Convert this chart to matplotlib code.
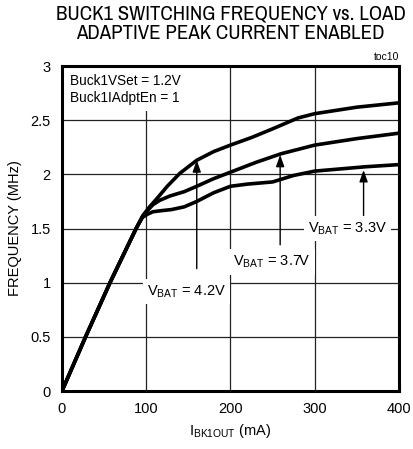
import matplotlib
matplotlib.use("Agg")
import matplotlib.pyplot as plt
from matplotlib import font_manager

# load current (mA) vs switching frequency (MHz)
x_42 = [0, 28, 57, 88, 96, 104, 112, 125, 140, 160, 180, 200, 225, 250, 265, 280, 300, 325, 350, 375, 400]
f_42 = [0, 0.5, 1.0, 1.5, 1.62, 1.7, 1.77, 1.89, 2.01, 2.13, 2.21, 2.27, 2.34, 2.42, 2.47, 2.52, 2.56, 2.59, 2.62, 2.64, 2.66]

x_37 = [0, 28, 57, 88, 96, 102, 108, 116, 128, 145, 160, 180, 200, 230, 260, 280, 300, 350, 400]
f_37 = [0, 0.5, 1.0, 1.5, 1.61, 1.67, 1.72, 1.76, 1.8, 1.84, 1.89, 1.96, 2.02, 2.11, 2.19, 2.23, 2.27, 2.33, 2.38]

x_33 = [0, 28, 57, 88, 95, 101, 108, 118, 130, 145, 160, 180, 200, 220, 250, 275, 300, 330, 360, 400]
f_33 = [0, 0.5, 1.0, 1.5, 1.6, 1.63, 1.655, 1.665, 1.675, 1.7, 1.75, 1.83, 1.89, 1.91, 1.93, 1.99, 2.03, 2.05, 2.07, 2.09]

x_ticks = [0, 100, 200, 300, 400]
y_ticks = [0, 0.5, 1, 1.5, 2, 2.5, 3]
y_tick_labels = ["0", "0.5", "1", "1.5", "2", "2.5", "3"]

names = {f.name for f in font_manager.fontManager.ttflist}
narrow = next((n for n in ["Archivo Narrow", "PT Sans Narrow", "Liberation Sans Narrow"] if n in names),
              "Liberation Sans")
plt.rcParams["font.family"] = ["Liberation Sans", "DejaVu Sans"]

fig = plt.figure(figsize=(4.13, 4.49), dpi=100)
ax = fig.add_axes([0.150, 0.129, 0.816, 0.724])

ax.set_xlim(0, 400)
ax.set_ylim(0, 3)
ax.set_xticks(x_ticks)
ax.set_yticks(y_ticks)
ax.set_yticklabels(y_tick_labels)
ax.tick_params(length=0, labelsize=10.5, pad=8)
ax.grid(True, color="#222222", lw=0.9)
ax.set_axisbelow(True)
for s in ax.spines.values():
    s.set_linewidth(2.2)
    s.set_zorder(6)

for xs, fs in [(x_42, f_42), (x_37, f_37), (x_33, f_33)]:
    ax.plot(xs, fs, color="black", lw=2.6, solid_capstyle="butt", solid_joinstyle="round", zorder=3)

# condition box (covers the grid in the top-left corner)
ax.text(10, 2.925, "Buck1VSet = 1.2V\nBuck1IAdptEn = 1", fontsize=9.8, va="top", ha="left",
        linespacing=1.25, zorder=5,
        bbox=dict(boxstyle="square,pad=0.45", fc="white", ec="none"))

arrow = dict(arrowstyle="-|>,head_length=0.7,head_width=0.25", color="black", lw=1.0,
             shrinkA=0, shrinkB=0)
labels = [
    ("V$_{\\mathregular{BAT}}$ = 4.2V", 148, 0.92, 160, 1.13, 2.13),
    ("V$_{\\mathregular{BAT}}$ = 3.7V", 249, 1.19, 259, 1.35, 2.18),
    ("V$_{\\mathregular{BAT}}$ = 3.3V", 339, 1.50, 358, 1.62, 2.04),
]
for txt, tx, ty, ax_x, y0, y1 in labels:
    ax.annotate("", xy=(ax_x, y1), xytext=(ax_x, y0), arrowprops=arrow, zorder=4)
    ax.text(tx, ty, txt, fontsize=10.5, ha="center", va="center", zorder=5,
            bbox=dict(boxstyle="square,pad=0.3", fc="white", ec="none"))

ax.set_ylabel("FREQUENCY (MHz)", fontsize=10.5, labelpad=6)
ax.set_xlabel("I$_{\\mathregular{BK1OUT}}$ (mA)", fontsize=10.5, labelpad=4)

fig.text(0.558, 0.99, "BUCK1 SWITCHING FREQUENCY vs. LOAD\nADAPTIVE PEAK CURRENT ENABLED",
         ha="center", va="top", fontsize=15, family=[narrow, "DejaVu Sans"], linespacing=1.06)
fig.text(0.966, 0.862, "toc10", ha="right", va="bottom", fontsize=7.5)

fig.savefig("out.png", dpi=100)
